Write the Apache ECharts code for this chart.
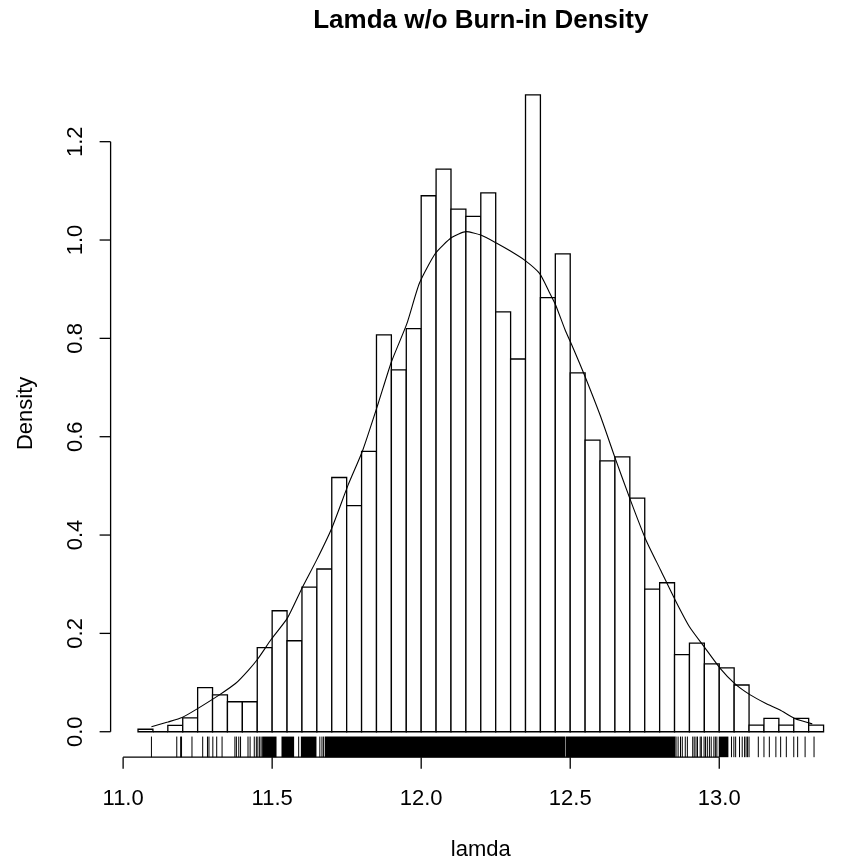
<!DOCTYPE html>
<html><head><meta charset="utf-8">
<script src="https://cdn.jsdelivr.net/npm/echarts@6/dist/echarts.min.js"></script>
<style>html,body{margin:0;padding:0;background:#fff}#c{width:851px;height:858px}</style>
</head><body><div id="c"></div>
<script>
// ---------- data ----------
const titleText = 'Lamda w/o Burn-in Density';
const xName = 'lamda';
const yName = 'Density';

const breaks = [11.05,11.10,11.15,11.20,11.25,11.30,11.35,11.40,11.45,11.50,
  11.55,11.60,11.65,11.70,11.75,11.80,11.85,11.90,11.95,12.00,
  12.05,12.10,12.15,12.20,12.25,12.30,12.35,12.40,12.45,12.50,
  12.55,12.60,12.65,12.70,12.75,12.80,12.85,12.90,12.95,13.00,
  13.05,13.10,13.15,13.20,13.25,13.30,13.35];

const densities = [0.005,0,0.013,0.028,0.0895,0.075,0.061,0.061,0.171,0.246,
  0.185,0.294,0.331,0.517,0.460,0.570,0.807,0.736,0.820,1.090,
  1.144,1.063,1.048,1.096,0.854,0.758,1.295,0.883,0.972,0.730,
  0.593,0.551,0.559,0.475,0.290,0.303,0.157,0.180,0.138,0.130,
  0.095,0.0136,0.027,0.0136,0.027,0.0136];

const curveX = [11.095,11.15,11.198,11.247,11.323,11.377,11.42,11.453,11.497,11.551,
  11.60,11.649,11.70,11.755,11.803,11.856,11.90,11.952,11.994,12.048,
  12.102,12.151,12.20,12.255,12.298,12.347,12.397,12.429,12.451,12.483,
  12.51,12.548,12.602,12.651,12.702,12.754,12.803,12.852,12.90,12.949,
  13.003,13.052,13.104,13.155,13.204,13.253,13.312];
const curveY = [0.010,0.0197,0.029,0.046,0.075,0.098,0.125,0.149,0.188,0.231,
  0.292,0.349,0.414,0.502,0.571,0.668,0.752,0.830,0.912,0.973,
  1.005,1.017,1.010,0.993,0.978,0.959,0.932,0.895,0.868,0.817,
  0.780,0.725,0.641,0.556,0.471,0.390,0.329,0.268,0.2135,0.173,
  0.129,0.098,0.075,0.058,0.044,0.027,0.016];

const rugTicks = [11.095,11.18,11.193,11.196,11.231,11.267,11.283,11.288,11.301,11.314,
  11.332,11.375,11.38,11.388,11.394,11.419,11.426,11.44,11.447,11.452,11.458,11.463,
  11.589,11.66,11.667,11.672,
  12.855,12.862,12.870,12.876,12.886,12.893,12.911,12.916,12.922,12.927,12.936,12.940,
  12.949,12.954,12.960,12.967,12.973,12.982,12.987,12.992,13.041,13.049,13.055,13.068,
  13.077,13.085,13.090,13.095,13.10,13.131,13.15,13.168,13.19,13.206,13.225,13.25,
  13.263,13.288,13.318];
const rugBands = [[11.468,11.513],[11.533,11.572],[11.598,11.647],[11.678,12.481],
  [12.486,12.851],[13.0,13.029]];

const xTicks = [11.0,11.5,12.0,12.5,13.0];
const xTickLabels = ['11.0','11.5','12.0','12.5','13.0'];
const yTicks = [0,0.2,0.4,0.6,0.8,1.0,1.2];
const yTickLabels = ['0.0','0.2','0.4','0.6','0.8','1.0','1.2'];

// ---------- chart ----------
const FONT = '"Liberation Sans", Arial, sans-serif';
const INK = '#000';
const LW = 1.3;
const ymax = Math.max(...densities);
const yMin = -0.04 * ymax, yMax = 1.04 * ymax;
const xr = breaks[breaks.length - 1] - breaks[0];
const xMin = breaks[0] - 0.04 * xr, xMax = breaks[breaks.length - 1] + 0.04 * xr;

const chart = echarts.init(document.getElementById('c'), null, {renderer: 'canvas'});

function txt(text, x, y, size, weight, rot) {
  return {type: 'text', x: x, y: y, rotation: rot || 0,
    style: {text: text, x: 0, y: 0, fill: INK,
      font: (weight || 'normal') + ' ' + size + 'px ' + FONT,
      align: 'center', verticalAlign: 'middle', textAlign: 'center', textVerticalAlign: 'middle'}};
}

const barData = densities.map((d, i) => [breaks[i], breaks[i + 1], d]);

chart.setOption({
  animation: false,
  backgroundColor: '#fff',
  grid: {left: 110.6, right: -23.4, top: 69.5, bottom: 100.8, containLabel: false},
  xAxis: {type: 'value', min: xMin, max: xMax, show: true,
    axisLine: {show: false}, axisTick: {show: false}, axisLabel: {show: false}, splitLine: {show: false}},
  yAxis: {type: 'value', min: yMin, max: yMax, show: true,
    axisLine: {show: false}, axisTick: {show: false}, axisLabel: {show: false}, splitLine: {show: false}},
  series: [
    { // histogram bars
      type: 'custom', clip: false, data: barData, encode: {x: [0, 1], y: 2},
      renderItem: function (params, api) {
        const p0 = api.coord([api.value(0), api.value(2)]);
        const p1 = api.coord([api.value(1), 0]);
        return {type: 'rect', shape: {x: p0[0], y: p0[1], width: p1[0] - p0[0], height: p1[1] - p0[1]},
          style: {fill: '#fff', stroke: INK, lineWidth: LW}};
      }
    },
    { // density curve
      type: 'line', data: curveX.map((x, i) => [x, curveY[i]]), showSymbol: false, smooth: 0.2,
      lineStyle: {color: INK, width: 1.1}, z: 3
    },
    { // rug ticks
      type: 'custom', clip: false, data: rugTicks.map(v => [v]), encode: {x: 0},
      renderItem: function (params, api) {
        const b = api.coord([api.value(0), yMin]);
        const t = api.coord([api.value(0), yMax]);
        const h = 0.03 * (b[1] - t[1]);
        return {type: 'line', shape: {x1: b[0], y1: b[1], x2: b[0], y2: b[1] - h},
          style: {stroke: INK, lineWidth: 1}};
      }
    },
    { // rug dense bands
      type: 'custom', clip: false, data: rugBands, encode: {x: [0, 1]},
      renderItem: function (params, api) {
        const b0 = api.coord([api.value(0), yMin]);
        const b1 = api.coord([api.value(1), yMin]);
        const t = api.coord([api.value(0), yMax]);
        const h = 0.03 * (b0[1] - t[1]);
        return {type: 'rect', shape: {x: b0[0] - 0.5, y: b0[1] - h, width: b1[0] - b0[0] + 1, height: h},
          style: {fill: INK}};
      }
    },
    { // x axis: line, ticks, labels
      type: 'custom', clip: false, data: xTicks.map((v, i) => [v, i]), encode: {x: 0},
      renderItem: function (params, api) {
        const v = api.value(0), i = api.value(1);
        const p = api.coord([v, yMin]);
        const kids = [
          {type: 'line', shape: {x1: p[0], y1: p[1], x2: p[0], y2: p[1] + 11.5}, style: {stroke: INK, lineWidth: LW}},
          txt(xTickLabels[i], p[0], p[1] + 41.5, 22)
        ];
        if (i === 0) {
          const q = api.coord([xTicks[xTicks.length - 1], yMin]);
          kids.push({type: 'line', shape: {x1: p[0], y1: p[1], x2: q[0], y2: q[1]}, style: {stroke: INK, lineWidth: LW}});
        }
        return {type: 'group', children: kids};
      }
    },
    { // y axis: line, ticks, labels
      type: 'custom', clip: false, data: yTicks.map((v, i) => [v, i]), encode: {y: 0},
      renderItem: function (params, api) {
        const v = api.value(0), i = api.value(1);
        const p = api.coord([xMin, v]);
        const kids = [
          {type: 'line', shape: {x1: p[0], y1: p[1], x2: p[0] - 11, y2: p[1]}, style: {stroke: INK, lineWidth: LW}},
          txt(yTickLabels[i], p[0] - 34.5, p[1], 22, 'normal', Math.PI / 2)
        ];
        if (i === 0) {
          const q = api.coord([xMin, yTicks[yTicks.length - 1]]);
          kids.push({type: 'line', shape: {x1: p[0], y1: p[1], x2: q[0], y2: q[1]}, style: {stroke: INK, lineWidth: LW}});
        }
        return {type: 'group', children: kids};
      }
    }
  ]
});

// titles placed relative to the plot region
const pl = chart.convertToPixel({gridIndex: 0}, [xMin, yMax]);
const pr = chart.convertToPixel({gridIndex: 0}, [xMax, yMin]);
const cx = (pl[0] + pr[0]) / 2, cy = (pl[1] + pr[1]) / 2;
chart.setOption({graphic: [
  txt(titleText, cx, pl[1] - 48.5, 26, 'bold'),
  txt(xName, cx, pr[1] + 92.5, 22),
  txt(yName, pl[0] - 84.5, cy, 22, 'normal', Math.PI / 2)
]});
</script></body></html>
